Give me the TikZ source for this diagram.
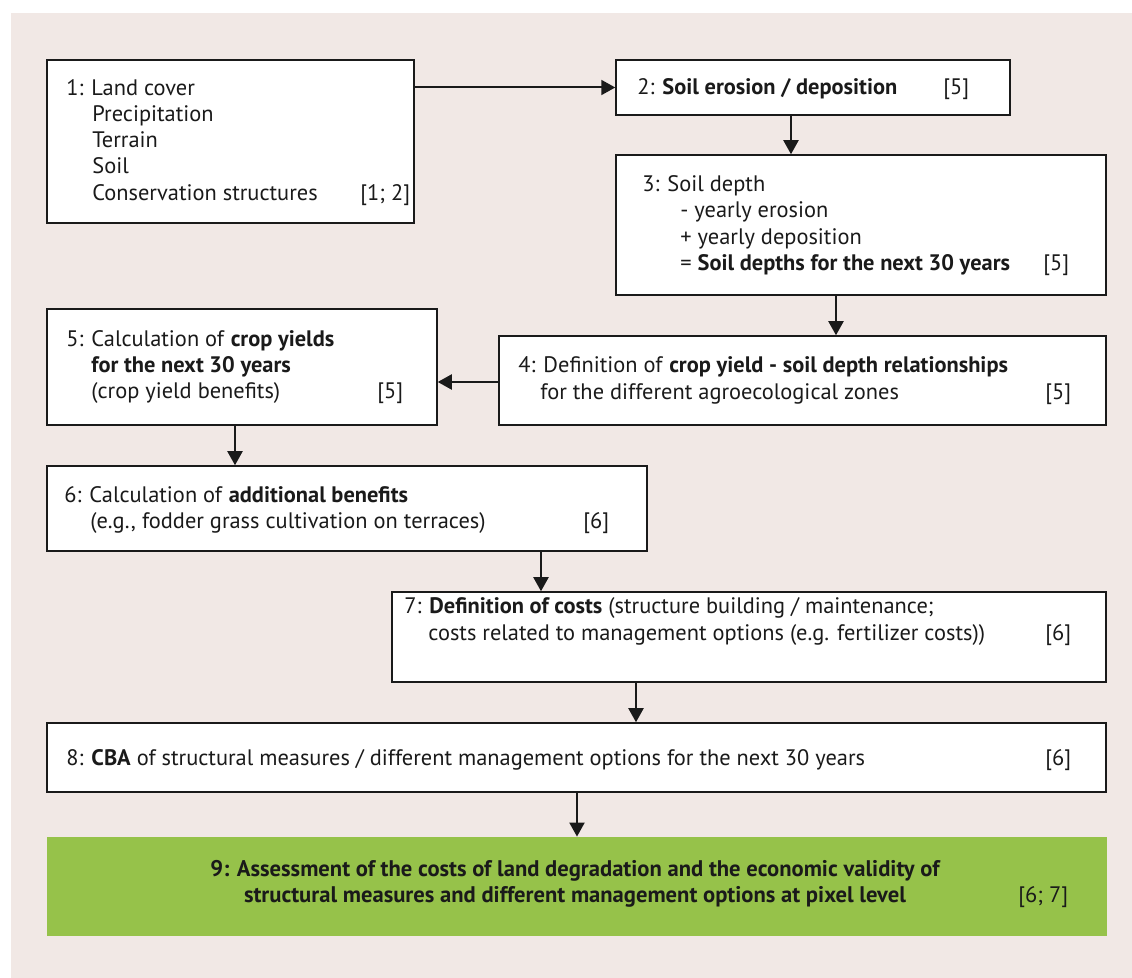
\documentclass[tikz,border=0pt]{standalone}
\usepackage{fontspec}
\setmainfont{PT Sans}
\usetikzlibrary{arrows.meta,fit}
\definecolor{bgc}{HTML}{F1E8E5}
\definecolor{greenc}{HTML}{96C24A}
\definecolor{inkc}{HTML}{1A1A1A}
\begin{document}
\begin{tikzpicture}[x=0.5pt,y=-0.5pt,
  box/.style={draw=inkc, line width=0.75pt, fill=white, inner sep=0pt},
  gbox/.style={fill=greenc, draw=none, inner sep=0pt},
  txt/.style={anchor=base west, inner sep=0pt, font=\fontsize{11.2}{13}\selectfont, text=inkc},
  ctxt/.style={anchor=base, inner sep=0pt, font=\fontsize{11.3}{13}\selectfont\bfseries, text=inkc},
  arr/.style={draw=inkc, line width=1pt, -{Triangle[width=7.5pt,length=7pt]}},
]
\useasboundingbox (0,0) rectangle (1132,978);
\fill[bgc] (11,13) rectangle (1132,978);
% boxes
\node[box, fit={(47,60)(414,223)}] (b1) {};
\node[box, fit={(616,60)(1010,115)}] (b2) {};
\node[box, fit={(616,155)(1106,295)}] (b3) {};
\node[box, fit={(499,336)(1106,425)}] (b4) {};
\node[box, fit={(47,309)(437,425)}] (b5) {};
\node[box, fit={(47,466)(647,551)}] (b6) {};
\node[box, fit={(392,592)(1106,682)}] (b7) {};
\node[box, fit={(47,723)(1106,792)}] (b8) {};
\node[gbox, fit={(47,837)(1107,936)}] (b9) {};
% texts box 1
\node[txt] (t1a) at (66,96) {1: Land cover};
\node[txt] (t1b) at (92,122) {Precipitation};
\node[txt] (t1c) at (92,148) {Terrain};
\node[txt] (t1d) at (92,174) {Soil};
\node[txt] (t1e) at (92,201) {Conservation structures};
\node[txt] (t1r) at (360,201) {[1; 2]};
% box 2
\node[txt] (t2a) at (637,95) {2: \textbf{Soil erosion / deposition}};
\node[txt] (t2r) at (943,95) {[5]};
% box 3
\node[txt] (t3a) at (642,192) {3: Soil depth};
\node[txt] (t3b) at (680,218) {- yearly erosion};
\node[txt] (t3c) at (680,245) {+ yearly deposition};
\node[txt] (t3d) at (680,271) {= \textbf{Soil depths for the next 30 years}};
\node[txt] (t3r) at (1043,271) {[5]};
% box 4
\node[txt] (t4a) at (518,373) {4: Definition of \textbf{crop yield - soil depth relationships}};
\node[txt] (t4b) at (540,400) {for the different agroecological zones};
\node[txt] (t4r) at (1045,400) {[5]};
% box 5
\node[txt] (t5a) at (66,347) {5: Calculation of \textbf{crop yields}};
\node[txt] (t5b) at (91,373) {\textbf{for the next 30 years}};
\node[txt] (t5c) at (91,399) {(crop yield benefits)};
\node[txt] (t5r) at (377,399) {[5]};
% box 6
\node[txt] (t6a) at (64,503) {6: Calculation of \textbf{additional benefits}};
\node[txt] (t6b) at (90,529) {(e.g., fodder grass cultivation on terraces)};
\node[txt] (t6r) at (583,529) {[6]};
% box 7
\node[txt] (t7a) at (404,614) {7: \textbf{Definition of costs} (structure building / maintenance;};
\node[txt] (t7b) at (428,641) {costs related to management options (e.g. fertilizer costs))};
\node[txt] (t7r) at (1045,641) {[6]};
% box 8
\node[txt] (t8a) at (66,766) {8: \textbf{CBA} of structural measures / different management options for the next 30 years};
\node[txt] (t8r) at (1045,766) {[6]};
% box 9
\node[ctxt] (t9a) at (575,877) {9: Assessment of the costs of land degradation and the economic validity of};
\node[ctxt] (t9b) at (575,903) {structural measures and different management options at pixel level};
\node[txt] (t9r) at (1018,903) {[6; 7]};
% connectors
\coordinate (x23) at (791,0);
\coordinate (x34) at (836,0);
\coordinate (y45) at (0,382);
\coordinate (x56) at (235,0);
\coordinate (x67) at (541,0);
\coordinate (x78) at (636,0);
\coordinate (x89) at (577,0);
\draw[arr] (b1.east |- b2.west) -- (b2.west);
\draw[arr] (x23 |- b2.south) -- (x23 |- b3.north);
\draw[arr] (x34 |- b3.south) -- (x34 |- b4.north);
\draw[arr] (b4.west |- y45) -- (b5.east |- y45);
\draw[arr] (x56 |- b5.south) -- (x56 |- b6.north);
\draw[arr] (x67 |- b6.south) -- (x67 |- b7.north);
\draw[arr] (x78 |- b7.south) -- (x78 |- b8.north);
\draw[arr] (x89 |- b8.south) -- (x89 |- b9.north);
\end{tikzpicture}
\end{document}
